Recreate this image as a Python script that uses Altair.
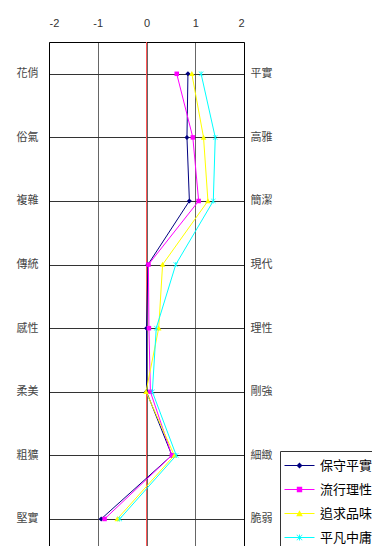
import json

import altair as alt
import pandas as pd

# Semantic-differential item pairs (left pole / right pole)
left_terms = ["花俏", "俗氣", "複雜", "傳統", "感性", "柔美", "粗獷", "堅實"]
right_terms = ["平實", "高雅", "簡潔", "現代", "理性", "剛強", "細緻", "脆弱"]

# Groups and their mean scores per item pair
series_names = ["保守平實", "流行理性", "追求品味", "平凡中庸"]
conservative = [0.85, 0.83, 0.88, 0.03, 0.0, 0.0, 0.52, -0.93]
trendy = [0.62, 0.95, 1.07, 0.04, 0.05, 0.08, 0.52, -0.86]
tasteful = [0.93, 1.17, 1.26, 0.33, 0.25, -0.01, 0.57, -0.60]
ordinary = [1.12, 1.41, 1.37, 0.60, 0.20, 0.12, 0.61, -0.55]
x_ticks = [-2, -1, 0, 1, 2]

series_colors = ["#000080", "#ff00ff", "#ffff00", "#00ffff"]

# Marker outlines (filled paths in unit coordinates)
diamond = "M0,-1L1,0L0,1L-1,0Z"
square = "M-0.9,-0.9H0.9V0.9H-0.9Z"
triangle = "M0,-1.1L1.1,0.9L-1.1,0.9Z"
star = ("M-0.15,-1H0.15V1H-0.15Z"
        "M-0.85,-1L1,0.85L0.85,1L-1,-0.85Z"
        "M0.85,-1L1,-0.85L-0.85,1L-1,0.85Z")
markers = [diamond, square, triangle, star]

# Legend symbols: a short line segment with the marker on it
seg = "M-5,-0.17H5V0.17H-5Z"
legend_markers = [seg + m for m in markers]

rows = []
for name, vals in zip(series_names, [conservative, trendy, tasteful, ordinary]):
    for i, v in enumerate(vals):
        rows.append({"series": name, "item": i, "score": v})
df = pd.DataFrame(rows)

x_scale = alt.Scale(domain=[-2, 2], nice=False, zero=False)
y_scale = alt.Scale(domain=[-0.5, 7.425], reverse=True, nice=False, zero=False)

label_font = "Noto Sans CJK TC"

x_enc = alt.X(
    "score:Q",
    scale=x_scale,
    axis=alt.Axis(
        orient="top", values=x_ticks, title=None, ticks=False,
        grid=True, gridColor="#666666", gridWidth=1,
        domainColor="#000000", labelFont="Liberation Sans",
        labelExpr="'' + datum.value",
        labelFontSize=11, labelColor="#333333", labelPadding=14,
    ),
)

y_left = alt.Y(
    "item:Q",
    scale=y_scale,
    axis=alt.Axis(
        orient="left", values=list(range(8)), title=None, ticks=False,
        grid=True, gridColor="#333333", gridWidth=1,
        domainColor="#000000",
        labelExpr=json.dumps(left_terms, ensure_ascii=False) + "[datum.value]",
        labelFont=label_font, labelFontSize=11, labelColor="#444444",
        labelPadding=11,
    ),
)

y_right = alt.Y(
    "item:Q",
    scale=y_scale,
    axis=alt.Axis(
        orient="right", values=list(range(8)), title=None, ticks=False,
        grid=False, domainColor="#000000",
        labelExpr=json.dumps(right_terms, ensure_ascii=False) + "[datum.value]",
        labelFont=label_font, labelFontSize=11, labelColor="#444444",
        labelPadding=6,
    ),
)

color_main = alt.Color(
    "series:N", scale=alt.Scale(domain=series_names, range=series_colors), legend=None
)

zero_line = alt.Chart(pd.DataFrame({"score": [0]})).mark_rule(
    color="#ff5555", strokeWidth=1
).encode(x=alt.X("score:Q", scale=x_scale))

base = alt.Chart(df)

lines = base.mark_line(strokeWidth=1).encode(
    x=x_enc, y=y_left, color=color_main, order=alt.Order("item:Q")
)

points = base.mark_point(filled=True, size=25, opacity=1).encode(
    x=alt.X("score:Q", scale=x_scale),
    y=alt.Y("item:Q", scale=y_scale),
    color=color_main,
    shape=alt.Shape(
        "series:N", scale=alt.Scale(domain=series_names, range=markers), legend=None
    ),
)

main = alt.layer(zero_line, lines, points)

legend_def = alt.Legend(title=None)

# Layer that carries the right-hand axis and the legend
key = base.transform_filter("datum.score > 9").mark_point(
    filled=True, opacity=1
).encode(
    x=alt.X("score:Q", scale=x_scale),
    y=y_right,
    color=alt.Color(
        "series:N", scale=alt.Scale(domain=series_names, range=series_colors),
        legend=legend_def,
    ),
    shape=alt.Shape(
        "series:N", scale=alt.Scale(domain=series_names, range=legend_markers),
        legend=legend_def,
    ),
)

chart = alt.layer(main, key).resolve_scale(
    y="independent", color="independent", shape="independent"
).properties(
    width=195,
    height=504,
    padding={"left": 49, "top": 42, "right": 128, "bottom": 0},
    autosize=alt.AutoSizeParams(type="none"),
    background="white",
).configure_view(
    stroke="transparent"
).configure_legend(
    orient="none",
    legendX=231,
    legendY=409,
    padding=8,
    symbolOffset=5,
    labelOffset=14,
    rowPadding=10,
    symbolSize=36,
    symbolStrokeWidth=0,
    strokeColor="#333333",
    fillColor="white",
    labelFont=label_font,
    labelFontSize=13,
    labelColor="#000000",
)

chart.save("out.html", embed_options={"renderer": "svg", "actions": False})
